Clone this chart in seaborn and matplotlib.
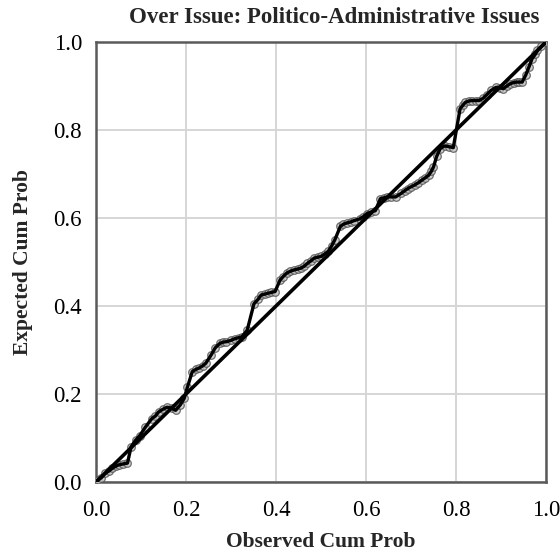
import matplotlib
matplotlib.use("Agg")
import matplotlib.pyplot as plt
import seaborn as sns
import pandas as pd

# Observed vs expected cumulative probabilities (P-P plot)
observed = [
    0.0, 0.005, 0.012, 0.021, 0.03, 0.036, 0.044, 0.051, 0.06, 0.07,
    0.078, 0.088, 0.097, 0.11, 0.124, 0.132, 0.139, 0.148, 0.158, 0.168,
    0.177, 0.187, 0.196, 0.203, 0.214, 0.222, 0.229, 0.237, 0.244, 0.256,
    0.265, 0.275, 0.283, 0.29, 0.3, 0.309, 0.317, 0.324, 0.336, 0.351,
    0.36, 0.367, 0.375, 0.382, 0.39, 0.398, 0.409, 0.416, 0.424, 0.432,
    0.44, 0.448, 0.455, 0.462, 0.47, 0.478, 0.485, 0.493, 0.501, 0.508,
    0.516, 0.524, 0.531, 0.543, 0.55, 0.558, 0.566, 0.573, 0.586, 0.594,
    0.602, 0.612, 0.621, 0.632, 0.64, 0.647, 0.656, 0.666, 0.678, 0.686,
    0.693, 0.7, 0.708, 0.716, 0.724, 0.731, 0.739, 0.745, 0.75, 0.757,
    0.765, 0.775, 0.785, 0.794, 0.809, 0.815, 0.821, 0.829, 0.836, 0.844,
    0.851, 0.86, 0.868, 0.878, 0.889, 0.897, 0.905, 0.913, 0.92, 0.928,
    0.935, 0.941, 0.947, 0.955, 0.962, 0.969, 0.976, 0.981, 0.99, 1.0,
]
expected = [
    0.0, 0.005, 0.01, 0.02, 0.026, 0.031, 0.036, 0.039, 0.041, 0.043,
    0.08, 0.095, 0.105, 0.125, 0.144, 0.15, 0.159, 0.165, 0.17, 0.168,
    0.163, 0.175, 0.19, 0.215, 0.251, 0.256, 0.259, 0.264, 0.27, 0.289,
    0.305, 0.315, 0.318, 0.319, 0.322, 0.326, 0.328, 0.33, 0.345, 0.405,
    0.415, 0.425, 0.427, 0.429, 0.431, 0.433, 0.459, 0.467, 0.475, 0.479,
    0.482, 0.484, 0.486, 0.49, 0.497, 0.503, 0.509, 0.511, 0.513, 0.518,
    0.524, 0.537, 0.551, 0.581, 0.586, 0.589, 0.591, 0.594, 0.598, 0.603,
    0.61, 0.614, 0.617, 0.644, 0.646, 0.648, 0.648, 0.648, 0.656, 0.662,
    0.667, 0.671, 0.675, 0.68, 0.686, 0.691, 0.697, 0.706, 0.716, 0.74,
    0.758, 0.764, 0.762, 0.76, 0.848, 0.856, 0.863, 0.866, 0.867, 0.867,
    0.867, 0.872, 0.88, 0.89, 0.897, 0.896, 0.894, 0.9, 0.905, 0.908,
    0.909, 0.909, 0.909, 0.925, 0.943, 0.962, 0.972, 0.981, 0.99, 1.0,
]

# 45-degree reference line
ref_x = [0.0, 1.0]
ref_y = [0.0, 1.0]

tick_values = [0.0, 0.2, 0.4, 0.6, 0.8, 1.0]
tick_labels = ["0.0", "0.2", "0.4", "0.6", "0.8", "1.0"]

title = "Over Issue: Politico-Administrative Issues"
x_label = "Observed Cum Prob"
y_label = "Expected Cum Prob"

sns.set_theme(style="whitegrid")
plt.rcParams["font.family"] = ["Liberation Serif", "DejaVu Serif"]
plt.rcParams["grid.color"] = "#d6d6d6"
plt.rcParams["grid.linewidth"] = 1.4

pp = pd.DataFrame({"observed": observed, "expected": expected})
ref = pd.DataFrame({"x": ref_x, "y": ref_y})

fig = plt.figure(figsize=(5.6, 5.59), dpi=100)
ax = fig.add_axes([0.1714, 0.1377, 0.8036, 0.7871])

sns.scatterplot(data=pp, x="observed", y="expected", ax=ax, s=30,
                facecolor="#c4c4c4", edgecolor="#505050", linewidth=0.9,
                alpha=0.8, zorder=3)
sns.lineplot(data=ref, x="x", y="y", ax=ax, color="black", linewidth=2.6,
             sort=False, zorder=4)
sns.lineplot(data=pp, x="observed", y="expected", ax=ax, color="black",
             linewidth=2.4, sort=False, zorder=5)

ax.set_xlim(0, 1)
ax.set_ylim(0, 1)
ax.set_xticks(tick_values)
ax.set_xticklabels(tick_labels)
ax.set_yticks(tick_values)
ax.set_yticklabels(tick_labels)
ax.tick_params(axis="both", length=0, labelsize=16.5, colors="black")
ax.tick_params(axis="x", pad=13)
ax.tick_params(axis="y", pad=10)

for side in ax.spines.values():
    side.set_visible(True)
    side.set_color("#5a5a5a")
    side.set_linewidth(1.8)

ax.set_title(title, fontsize=16.5, fontweight="bold", x=0.53, pad=14)
ax.set_xlabel(x_label, fontsize=15.5, fontweight="bold", labelpad=8)
ax.set_ylabel(y_label, fontsize=15.5, fontweight="bold", labelpad=15)

fig.savefig("out.png", dpi=100)
